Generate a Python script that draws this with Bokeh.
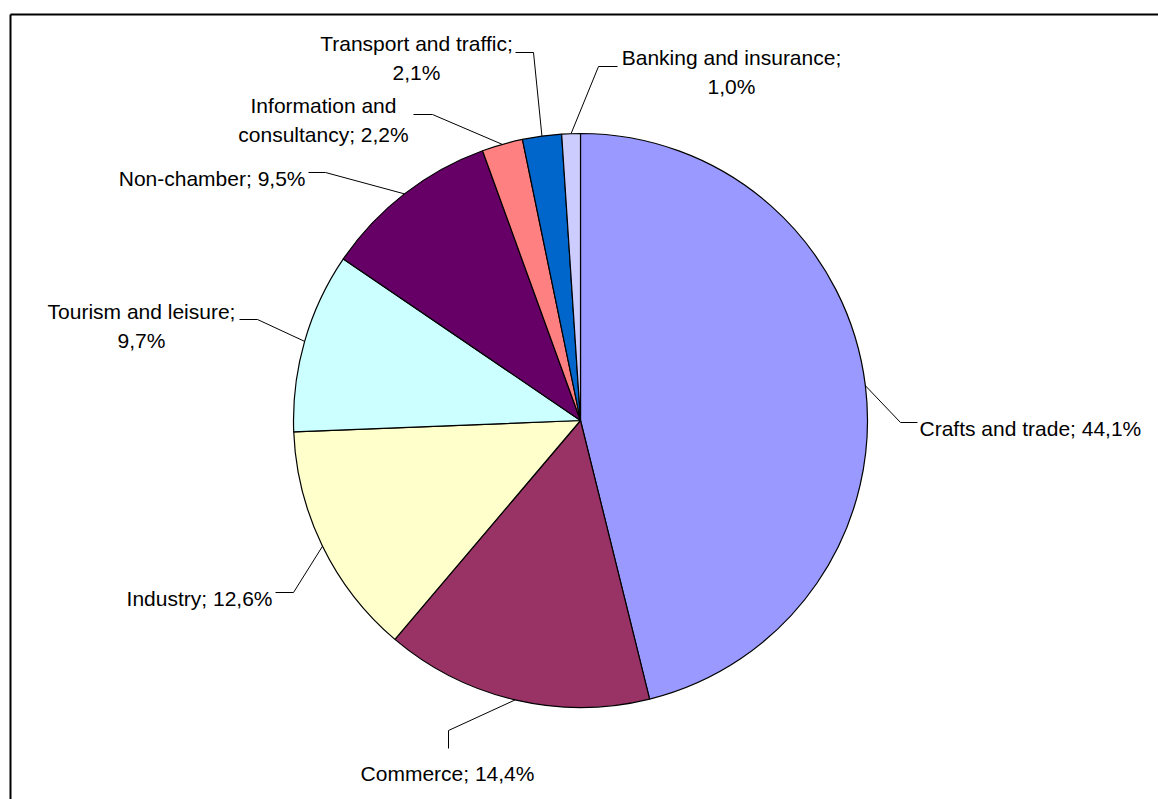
import math
from bokeh.plotting import figure
from bokeh.models import Range1d, ColumnDataSource
from bokeh.core.properties import value
from bokeh.embed import file_html
from bokeh.resources import INLINE

# ---------------- data ----------------
categories = ["Crafts and trade", "Commerce", "Industry", "Tourism and leisure",
              "Non-chamber", "Information and consultancy", "Transport and traffic",
              "Banking and insurance"]
shares = [44.1, 14.4, 12.6, 9.7, 9.5, 2.2, 2.1, 1.0]
colors = ["#9999FF", "#993366", "#FFFFCC", "#CCFFFF", "#660066", "#FF8080", "#0066CC", "#CCCCFF"]
# where a label wraps onto a second line (None = single line)
wrap_after = [None, None, None, "Tourism and leisure;", None, "Information and",
              "Transport and traffic;", "Banking and insurance;"]

# ---------------- layout (screen pixels) ----------------
W, H = 1158, 799
CX, CY, R = 580, 420, 287
FONT = value("Liberation Sans")
FS = "21px"
# leader elbows / ends and label anchors (screen coords)
elbows = [(900, 422), (448, 730), (293, 592), (257, 319), (325, 172), (432, 114), (533, 52), (598, 66)]
ends = [(917, 422), (448, 748), (275, 592), (239, 319), (308, 172), (413, 114), (515, 52), (617, 66)]
anchors = [(919, 428, "left"), (447, 773, "center"), (272, 598, "right"), (141, 311, "center"),
           (305, 177.5, "right"), (323, 105, "center"), (416, 43, "center"), (731, 57, "center")]
LINE_GAP = 28.5


def sy(Y):
    return H - Y


p = figure(width=W, height=H, output_backend="svg", toolbar_location=None,
           x_range=Range1d(0, W), y_range=Range1d(0, H),
           x_axis_type=None, y_axis_type=None, min_border=0,
           background_fill_color="white", border_fill_color="white")
p.grid.visible = False
p.outline_line_color = None

# frame border (top and left visible)
p.segment(x0=[10, 10], y0=[sy(14), sy(14)], x1=[W + 50, 10], y1=[sy(14), sy(H + 50)],
          line_color="black", line_width=2)

total = sum(shares)
fracs = [s / total for s in shares]
cum = [0.0]
for f in fracs:
    cum.append(cum[-1] + f)
start = [math.pi / 2 - 2 * math.pi * c for c in cum[:-1]]
end = [math.pi / 2 - 2 * math.pi * c for c in cum[1:]]

src = ColumnDataSource(dict(start=start, end=end, color=colors, cat=categories))
p.wedge(x=CX, y=sy(CY), radius=R, start_angle="start", end_angle="end",
        direction="clock", fill_color="color", line_color="black", line_width=1.2, source=src)

# leader lines
xs, ys = [], []
for i in range(len(shares)):
    mid = 2 * math.pi * (cum[i] + cum[i + 1]) / 2
    px = CX + R * math.sin(mid)
    py = CY - R * math.cos(mid)
    xs.append([px, elbows[i][0], ends[i][0]])
    ys.append([sy(py), sy(elbows[i][1]), sy(ends[i][1])])
p.multi_line(xs=xs, ys=ys, line_color="black", line_width=1)

# labels
for i, (cat, s) in enumerate(zip(categories, shares)):
    full = f"{cat}; {s:.1f}%".replace(".", ",")
    if wrap_after[i]:
        lines = [full[:len(wrap_after[i])], full[len(wrap_after[i]):].strip()]
    else:
        lines = [full]
    ax, ay, al = anchors[i]
    for k, ln in enumerate(lines):
        p.text(x=[ax], y=[sy(ay + k * LINE_GAP)], text=[ln], text_font=FONT,
               text_font_size=FS, text_align=al, text_baseline="alphabetic",
               text_color="black")

open("out.html", "w").write(file_html(p, INLINE))
